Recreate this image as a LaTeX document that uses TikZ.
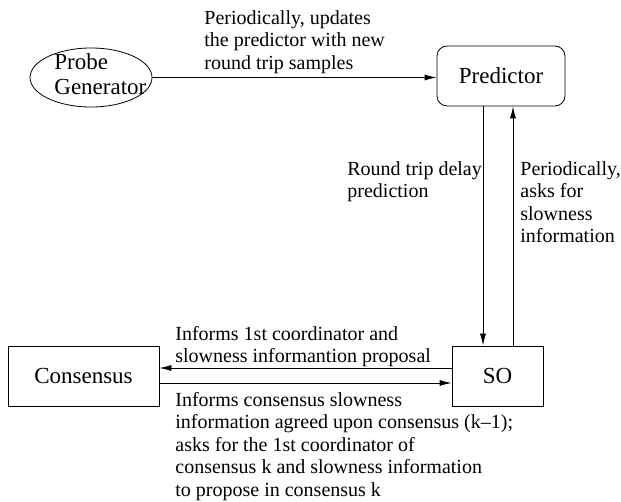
\documentclass[tikz,border=0pt]{standalone}
\usepackage{fontspec}
\setmainfont{Liberation Serif}
\usepackage{tikz}
\usetikzlibrary{shapes.geometric,arrows.meta}

\begin{document}
\begin{tikzpicture}[x=1pt,y=-1pt,line width=0.8pt,>={Latex[length=12pt,width=6pt]},
	block/.style={draw,minimum height=60pt,inner sep=0pt,font=\fontsize{23}{25}\selectfont},
	lbl/.style={anchor=north west,align=left,inner sep=0pt,font=\fontsize{20}{22.5}\selectfont}]
	\useasboundingbox (0,0) rectangle (621,502);
	\node[draw,ellipse,minimum width=122pt,minimum height=59pt,inner sep=0pt] (probe) at (91,77.5) {};
	\node[anchor=north west,align=left,inner sep=0pt,font=\fontsize{23}{25}\selectfont] (probetxt) at (54,53) {Probe\\Generator};
	\node[block,rounded corners=10pt,minimum width=128pt] (predictor) at (501,76) {Predictor};
	\node[block,minimum width=151pt] (consensus) at (83.5,376) {Consensus};
	\node[block,minimum width=91pt] (so) at (497.5,376) {SO};

	\draw[->] (probe.east) -- (probe.east -| predictor.west);
	\draw[->] ([xshift=-18pt]predictor.south) -- ([xshift=-18pt]predictor.south |- so.north);
	\draw[->] ([xshift=12pt]predictor.south |- so.north) -- ([xshift=12pt]predictor.south);
	\draw[->] ([yshift=8pt]so.west) -- ([yshift=8pt]so.west -| consensus.east);
	\draw[->] ([yshift=-7pt]consensus.east) -- ([yshift=-7pt]consensus.east -| so.west);

	\node[lbl] (update) at (204,10) {Periodically, updates\\the predictor with new\\round trip samples};
	\node[lbl] (delay) at (347,161) {Round trip delay\\prediction};
	\node[lbl] (asks) at (520,161) {Periodically,\\asks for\\slowness\\information};
	\node[lbl] (informs) at (175,326) {Informs 1st coordinator and\\slowness informantion proposal};
	\node[lbl] (agreed) at (175,392) {Informs consensus slowness\\information agreed upon consensus (k--1);\\asks for the 1st coordinator of\\consensus k and slowness information\\to propose in consensus k};
\end{tikzpicture}
\end{document}
